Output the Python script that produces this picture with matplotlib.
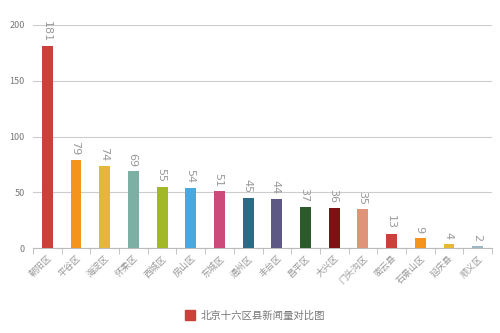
import matplotlib.pyplot as plt
import numpy as np

plt.rcParams['font.family'] = ['Noto Sans CJK SC', 'DejaVu Sans']

districts = ['朝阳区', '平谷区', '海淀区', '怀柔区', '西城区', '房山区', '东城区', '通州区',
             '丰台区', '昌平区', '大兴区', '门头沟区', '密云县', '石景山区', '延庆县', '顺义区']
news_counts = [181, 79, 74, 69, 55, 54, 51, 45, 44, 37, 36, 35, 13, 9, 4, 2]
bar_colors = ['#c9413a', '#f4941c', '#e6b63c', '#7cb0a4', '#a3b827', '#4ca7df', '#cb4a7a', '#2b6b86',
              '#5d5984', '#2c5a2c', '#7c1212', '#df9378', '#c9413a', '#f4941c', '#e6b63c', '#9fb6c4']
legend_label = '北京十六区县新闻量对比图'

fig = plt.figure(figsize=(5, 3.33), dpi=100)
ax = fig.add_axes([0.066, 0.255, 0.918, 0.67])

x = np.arange(len(districts))
bars = ax.bar(x, news_counts, width=0.38, color=bar_colors, zorder=3)

# value labels, rotated so they read top to bottom
for xi, v in zip(x, news_counts):
    ax.text(xi, v + 4, str(v), rotation=-90, rotation_mode='anchor',
            ha='right', va='center_baseline', fontsize=8, color='#999999',
            family='DejaVu Sans')

ax.set_xlim(-0.5, len(districts) - 0.5)
ax.set_ylim(0, 200)
ax.set_yticks([0, 50, 100, 150, 200])
ax.yaxis.grid(True, color='#cccccc', linewidth=0.8, zorder=0)
ax.tick_params(axis='y', length=0, labelsize=6.5, labelcolor='#777777', pad=6)

ax.set_xticks(x)
ax.set_xticklabels(districts, rotation=45, ha='right', rotation_mode='anchor',
                   fontsize=6.5, color='#999999')
ax.tick_params(axis='x', length=0, pad=4)
# tick marks between categories
ax.set_xticks(np.arange(-0.5, len(districts)), minor=True)
ax.tick_params(axis='x', which='minor', length=4, color='#bbbbbb')

for s in ['top', 'right', 'left']:
    ax.spines[s].set_visible(False)
ax.spines['bottom'].set_color('#bbbbbb')

handle = plt.Rectangle((0, 0), 1, 1, color='#c9413a')
fig.legend([handle], [legend_label], loc='center', bbox_to_anchor=(0.51, 0.053),
           frameon=False, fontsize=7.5, labelcolor='#777777', handlelength=1.0,
           handleheight=1.0, handletextpad=0.5)

fig.savefig('out.png', dpi=100)
